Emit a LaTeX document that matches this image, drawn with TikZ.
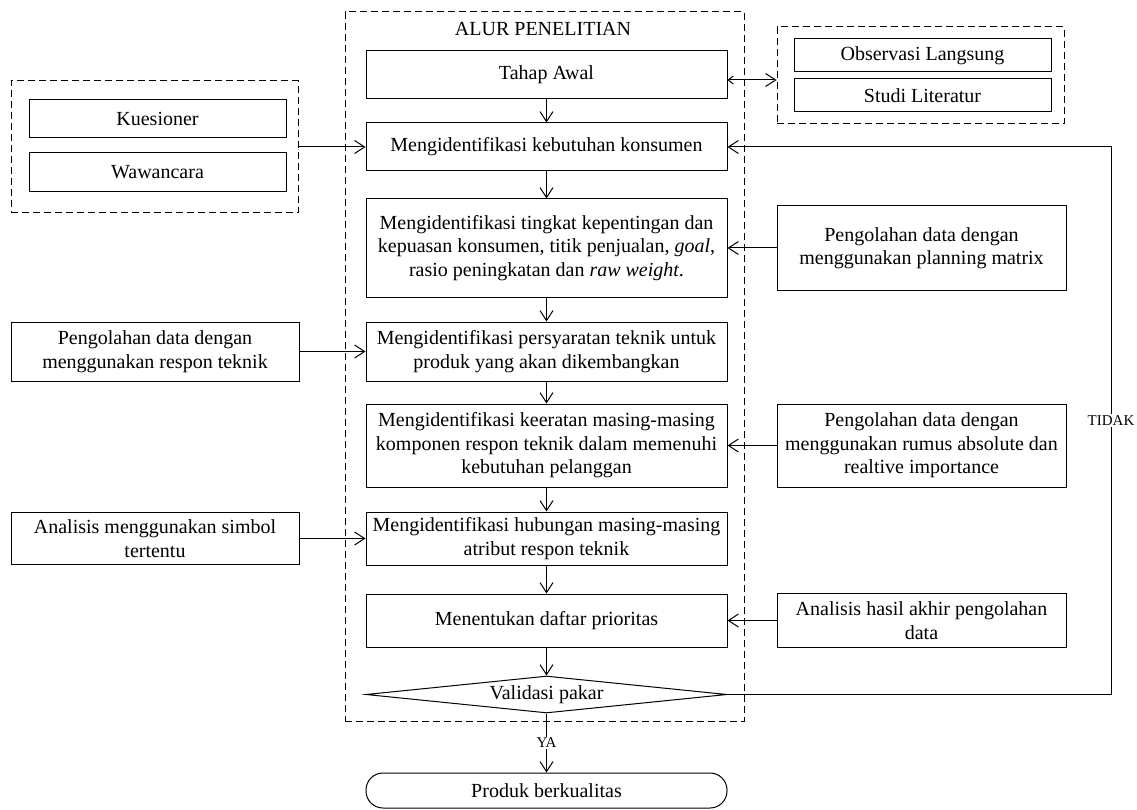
\documentclass[tikz,border=0pt]{standalone}
\usepackage{fontspec}
\setmainfont{Liberation Serif}
\usetikzlibrary{arrows.meta,shapes.geometric}

\begin{document}
\begin{tikzpicture}[x=1pt, y=-1pt, line width=1pt,
        >={Straight Barb[length=10pt,width=13pt]},
        font=\fontsize{20}{23.5}\selectfont,
        box/.style={draw, rectangle, align=center, inner sep=0pt},
        dashbox/.style={draw, rectangle, dash pattern=on 7pt off 4pt, inner sep=0pt},
        lbl/.style={fill=white, inner sep=1.5pt, font=\fontsize{15}{17}\selectfont}]
            \useasboundingbox (0,0) rectangle (1137,810);

            \node[dashbox, minimum width=399pt, minimum height=709pt] (alur) at (544.5, 366.5) {};
            \node (judul) at (543, 29) {ALUR PENELITIAN};

            \node[box, minimum width=361pt, minimum height=48pt] (tahap) at (546.5, 75) {Tahap Awal};
            \node[box, minimum width=361pt, minimum height=48pt] (kebutuhan) at (546.5, 147) {Mengidentifikasi kebutuhan konsumen};
            \node[box, minimum width=361pt, minimum height=98pt] (tingkat) at (546.5, 248) {Mengidentifikasi tingkat kepentingan dan\\kepuasan konsumen, titik penjualan, \textit{goal},\\rasio peningkatan dan \textit{raw weight}.};
            \node[box, minimum width=361pt, minimum height=59pt] (persyaratan) at (546.5, 351.5) {Mengidentifikasi persyaratan teknik untuk\\produk yang akan dikembangkan};
            \node[box, minimum width=361pt, minimum height=83pt] (keeratan) at (546.5, 445.5) {Mengidentifikasi keeratan masing-masing\\komponen respon teknik dalam memenuhi\\kebutuhan pelanggan};
            \node[box, minimum width=361pt, minimum height=53pt] (hubungan) at (546.5, 538.5) {Mengidentifikasi hubungan masing-masing\\atribut respon teknik};
            \node[box, minimum width=361pt, minimum height=53pt] (prioritas) at (546.5, 620.5) {Menentukan daftar prioritas};
            \node[draw, diamond, aspect=9.76, inner sep=0pt, minimum width=361pt, minimum height=37pt] (validasi) at (546.5, 694.5) {Validasi pakar};
            \node[box, rounded corners=17pt, minimum width=361pt, minimum height=35pt] (produk) at (546.5, 790.5) {Produk berkualitas};

            \node[dashbox, minimum width=287pt, minimum height=132pt] (sumber) at (154.5, 147) {};
            \node[box, minimum width=257pt, minimum height=38pt] (kuesioner) at (157.5, 119) {Kuesioner};
            \node[box, minimum width=257pt, minimum height=39pt] (wawancara) at (157.5, 172.5) {Wawancara};

            \node[dashbox, minimum width=287pt, minimum height=97pt] (literatur) at (920.5, 75.5) {};
            \node[box, minimum width=257pt, minimum height=33pt] (observasi) at (922.5, 55.5) {Observasi Langsung};
            \node[box, minimum width=257pt, minimum height=33pt] (studi) at (922.5, 95.5) {Studi Literatur};

            \node[box, minimum width=288pt, minimum height=59pt] (respon) at (155, 351.5) {Pengolahan data dengan\\menggunakan respon teknik};
            \node[box, minimum width=288pt, minimum height=52pt] (simbol) at (155, 538.5) {Analisis menggunakan simbol\\tertentu};

            \node[box, minimum width=289pt, minimum height=84pt] (matriks) at (921.5, 248) {Pengolahan data dengan\\menggunakan planning matrix};
            \node[box, minimum width=289pt, minimum height=83pt] (absolut) at (921.5, 445.5) {Pengolahan data dengan\\menggunakan rumus absolute dan\\realtive importance};
            \node[box, minimum width=289pt, minimum height=54pt] (akhir) at (921.5, 620.5) {Analisis hasil akhir pengolahan\\data};

            \foreach \a/\b in {tahap/kebutuhan, kebutuhan/tingkat, tingkat/persyaratan, persyaratan/keeratan, keeratan/hubungan, hubungan/prioritas, prioritas/validasi}
                \draw[->] (\a) -- (\b);

            \draw[{Straight Barb[length=5pt,width=8pt]}-{Straight Barb[length=10pt,width=13pt]}] ([yshift=-5pt]tahap.east) -- ([yshift=-5pt]tahap.east -| literatur.west);
            \draw[->] (sumber.east) -- (kebutuhan.west);
            \draw[->] (respon) -- (persyaratan);
            \draw[->] (simbol) -- (hubungan);
            \draw[->] (matriks) -- (tingkat);
            \draw[->] (absolut) -- (keeratan);
            \draw[->] (akhir) -- (prioritas);

            \coordinate (balik) at (1111, 694.5);
            \draw[->] (validasi.east) -- (balik) -- node[lbl] (tidak) {TIDAK} (balik |- kebutuhan.east) -- (kebutuhan.east);
            \draw[->] (validasi) -- node[lbl] (ya) {YA} (produk);
        \end{tikzpicture}
\end{document}
